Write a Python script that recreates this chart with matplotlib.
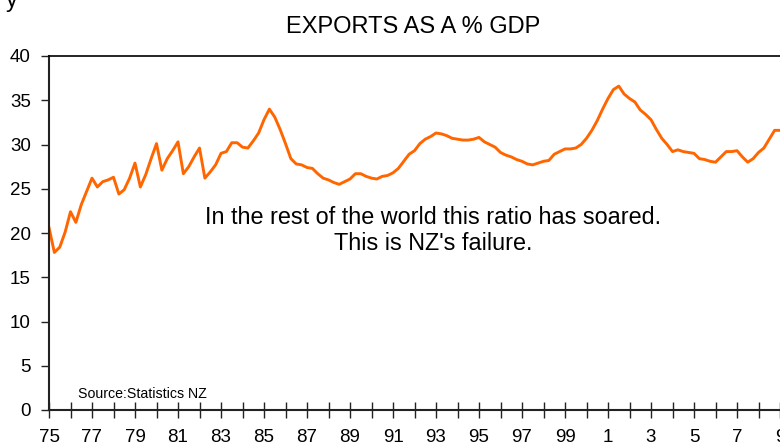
import matplotlib
matplotlib.use("Agg")
import matplotlib.pyplot as plt
from matplotlib.ticker import MultipleLocator, FixedLocator

plt.rcParams['font.family'] = ['Liberation Sans', 'DejaVu Sans']

# quarterly exports as % of GDP, starting 1975 Q1
start_year = 1975
exports_pct = [
    20.6, 17.8, 18.4, 20.1, 22.4, 21.2, 23.2, 24.7, 26.2, 25.2,
    25.8, 26.0, 26.3, 24.4, 24.9, 26.2, 27.9, 25.2, 26.6, 28.4,
    30.1, 27.1, 28.4, 29.3, 30.3, 26.7, 27.5, 28.6, 29.6, 26.2,
    26.9, 27.7, 29.0, 29.2, 30.2, 30.2, 29.7, 29.6, 30.4, 31.3,
    32.8, 34.0, 33.1, 31.7, 30.1, 28.4, 27.8, 27.7, 27.4, 27.3,
    26.7, 26.2, 26.0, 25.7, 25.5, 25.8, 26.1, 26.7, 26.7, 26.4,
    26.2, 26.1, 26.4, 26.5, 26.8, 27.3, 28.1, 28.9, 29.3, 30.1,
    30.6, 30.9, 31.3, 31.2, 31.0, 30.7, 30.6, 30.5, 30.5, 30.6,
    30.8, 30.3, 30.0, 29.7, 29.1, 28.8, 28.6, 28.3, 28.1, 27.8,
    27.7, 27.9, 28.1, 28.2, 28.9, 29.2, 29.5, 29.5, 29.6, 30.0,
    30.7, 31.6, 32.7, 34.0, 35.2, 36.2, 36.6, 35.7, 35.2, 34.8,
    33.9, 33.4, 32.8, 31.7, 30.7, 30.0, 29.2, 29.4, 29.2, 29.1,
    29.0, 28.4, 28.3, 28.1, 28.0, 28.6, 29.2, 29.2, 29.3, 28.6,
    28.0, 28.4, 29.1, 29.6, 30.6, 31.6, 31.6,
]
quarters = [start_year + i / 4 for i in range(len(exports_pct))]

label_years = list(range(1975, 2011, 2))
label_text = [str(y % 100) for y in label_years]
y_ticks = [0, 5, 10, 15, 20, 25, 30, 35, 40]

W, H = 780, 445
fig = plt.figure(figsize=(W / 100, H / 100), dpi=100)
# axes runs past the right edge, the original picture is cropped there
ax = fig.add_axes([49 / W, 35 / H, 35 * 21.5 / W, 354 / H])

ax.plot(quarters, exports_pct, color='#ff6600', linewidth=2.1)

ax.set_xlim(1975, 2010)
ax.set_ylim(0, 40)

ax.xaxis.set_major_locator(FixedLocator(label_years))
ax.set_xticklabels(label_text)
ax.xaxis.set_minor_locator(MultipleLocator(1))
ax.set_yticks(y_ticks)

ax.tick_params(axis='x', which='both', direction='inout', length=11, width=1,
               color='#222222', labelsize=13.5, pad=8)
ax.tick_params(axis='y', direction='out', length=6, width=1, color='#222222',
               labelsize=13.5, pad=7)

for s in ['left', 'bottom']:
    ax.spines[s].set_linewidth(1.5)
    ax.spines[s].set_color('#222222')
ax.spines['top'].set_linewidth(1.2)
ax.spines['right'].set_visible(False)

fig.text(413 / W, 1 - 27 / H, 'EXPORTS AS A % GDP', ha='center', va='center',
         fontsize=17)
# bit of a label sitting above the crop
fig.text(12 / W, 1 - 7 / H, 'y', ha='center', va='baseline', fontsize=17)

ax.text(1992.85, 23.1, 'In the rest of the world this ratio has soared.\nThis is NZ\'s failure.',
        ha='center', va='top', fontsize=16.8, linespacing=1.2)
ax.text(1976.35, 1.0, 'Source:Statistics NZ', fontsize=10.2, ha='left', va='bottom')

fig.savefig('out.png', dpi=100)
